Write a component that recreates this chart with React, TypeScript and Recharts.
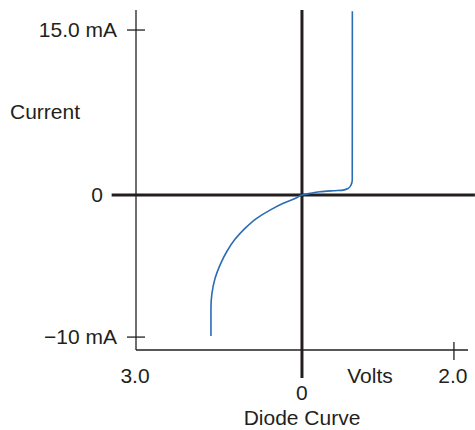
import {
  LineChart,
  Line,
  XAxis,
  YAxis,
  ReferenceLine,
  Label,
} from "recharts";

// diode I-V curve (volts, mA)
const volts = [
  -1.645, -1.645, -1.627, -1.572, -1.482, -1.361, -1.211, -1.03, -0.819,
  -0.578, -0.338, -0.096, 0, 0.105, 0.237, 0.412, 0.543, 0.609, 0.645, 0.662,
  0.663,
];
const milliamps = [
  -9.93, -7.87, -6.92, -5.87, -4.93, -3.99, -3.12, -2.35, -1.64, -1.06, -0.58,
  -0.19, 0, 0.15, 0.3, 0.39, 0.45, 0.61, 0.91, 1.36, 16.7,
];

const xTickValues = [-3, 0, 2];
const xTickLabels = ["3.0", "0", "2.0"];
const yTickValues = [15, 0, -10];
const yTickLabels = ["15.0 mA", "0", "\u221210 mA"];

// the reverse side of each axis is drawn at its own scale
const NEG_V_SCALE = 55.33 / 76;
const NEG_I_SCALE = 14.2 / 11;
const toX = (v: number) => (v < 0 ? v * NEG_V_SCALE : v);
const toY = (i: number) => (i < 0 ? i * NEG_I_SCALE : i);

const data = volts.map((v, k) => ({ x: toX(v), y: toY(milliamps[k]) }));

const X_DOMAIN = [toX(-3), 2.185];
const Y_DOMAIN = [toY(-10.91), 16.82];

const FONT = "'Liberation Sans', Arial, sans-serif";
const INK = "#231f20";
const textStyle = { fontFamily: FONT, fontSize: 21, fill: INK };

const XTick = (props: any) => {
  const { x, y, index } = props;
  const label = xTickLabels[index];
  if (index === 1) {
    return (
      <text x={x} y={y + 50} textAnchor="middle" style={textStyle}>
        {label}
      </text>
    );
  }
  return (
    <g>
      {index === 2 && (
        <line x1={x} x2={x} y1={y - 8} y2={y + 10} stroke={INK} strokeWidth={1.3} />
      )}
      <text x={x - 1} y={y + 33} textAnchor="middle" style={textStyle}>
        {label}
      </text>
    </g>
  );
};

const YTick = (props: any) => {
  const { x, y, index } = props;
  const label = yTickLabels[index];
  if (index === 1) {
    return (
      <text x={x - 33} y={y + 7} textAnchor="end" style={textStyle}>
        {label}
      </text>
    );
  }
  return (
    <g>
      <line x1={x - 9} x2={x + 9} y1={y} y2={y} stroke={INK} strokeWidth={1.3} />
      <text x={x - 19} y={y + 7} textAnchor="end" style={textStyle}>
        {label}
      </text>
    </g>
  );
};

const App = () => {
  return (
    <div style={{ position: "absolute", left: 0, top: 0, background: "#fff" }}>
      <LineChart
        width={475}
        height={430}
        data={data}
        margin={{ top: 10, right: 7, bottom: 79, left: 135 }}
      >
        <XAxis
          type="number"
          dataKey="x"
          domain={X_DOMAIN}
          ticks={xTickValues.map(toX)}
          interval={0}
          allowDataOverflow
          height={1}
          tickSize={0}
          tickMargin={0}
          tickLine={false}
          axisLine={{ stroke: INK, strokeWidth: 1.3 }}
          tick={<XTick />}
        >
          <Label
            content={({ viewBox }: any) => (
              <text
                x={viewBox.x + 234}
                y={viewBox.y + 33}
                textAnchor="middle"
                style={textStyle}
              >
                Volts
              </text>
            )}
          />
          <Label
            content={({ viewBox }: any) => (
              <text
                x={viewBox.x + 166}
                y={viewBox.y + 75}
                textAnchor="middle"
                style={textStyle}
              >
                Diode Curve
              </text>
            )}
          />
        </XAxis>
        <YAxis
          type="number"
          dataKey="y"
          domain={Y_DOMAIN}
          ticks={yTickValues.map(toY)}
          interval={0}
          allowDataOverflow
          width={1}
          tickSize={0}
          tickMargin={0}
          tickLine={false}
          axisLine={{ stroke: INK, strokeWidth: 1.3 }}
          tick={<YTick />}
        >
          <Label
            content={({ viewBox }: any) => (
              <text x={viewBox.x - 125} y={viewBox.y + 109} style={textStyle}>
                Current
              </text>
            )}
          />
        </YAxis>
        <ReferenceLine
          segment={[
            { x: toX(-3.44), y: 0 },
            { x: 2.276, y: 0 },
          ]}
          stroke={INK}
          strokeWidth={3}
          ifOverflow="visible"
        />
        <ReferenceLine
          segment={[
            { x: 0, y: toY(-12.89) },
            { x: 0, y: 16.82 },
          ]}
          stroke={INK}
          strokeWidth={3}
          ifOverflow="visible"
        />
        <Line
          type="monotoneY"
          dataKey="y"
          stroke="#2a6db5"
          strokeWidth={1.6}
          dot={false}
          isAnimationActive={false}
        />
      </LineChart>
    </div>
  );
};

export default App;
